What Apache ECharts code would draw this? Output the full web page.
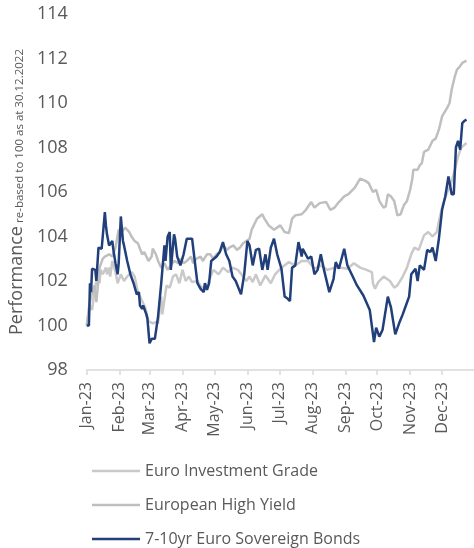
<!DOCTYPE html>
<html>
<head>
<meta charset="utf-8">
<script src="https://cdn.jsdelivr.net/npm/echarts@6/dist/echarts.min.js"></script>
<style>
  html, body { margin: 0; padding: 0; background: #fff; }
  #chart { width: 474px; height: 548px; }
</style>
</head>
<body>
<div id="chart"></div>
<script>
// tick labels and the day index (0 = 1 Jan 2023) where each month starts
const months = ['Jan-23', 'Feb-23', 'Mar-23', 'Apr-23', 'May-23', 'Jun-23',
                'Jul-23', 'Aug-23', 'Sep-23', 'Oct-23', 'Nov-23', 'Dec-23'];
const monthStart = [0, 31, 59, 90, 120, 151, 181, 212, 243, 273, 304, 334];

const seriesNames = ['Euro Investment Grade', 'European High Yield', '7-10yr Euro Sovereign Bonds'];

// Euro Investment Grade (day index, level)
const igDays = [0, 2, 3, 5, 6, 7, 10, 12, 13, 15, 18, 19, 21, 22, 24, 27, 29, 32, 35, 38, 42, 45, 48, 52, 55, 58,
  62, 65, 67, 70, 71, 75, 78, 81, 84, 87, 90, 93, 96, 99, 104, 108, 113, 119, 124, 128, 133, 137, 142, 147, 150,
  153, 156, 159, 163, 168, 173, 177, 183, 190, 196, 202, 208, 214, 220, 226, 233, 239, 245, 251, 257, 263, 268,
  269, 271, 274, 279, 285, 289, 292, 297, 301, 305, 308, 312, 317, 321, 325, 329, 332, 335, 339, 342, 346, 349,
  352, 357];
const igVals = [100, 100.6, 100.9, 100.7, 101.1, 101.5, 102.2, 101.9, 102.5, 102.3, 102.6, 102.3, 102.6, 102.2,
  102.9, 102.4, 101.9, 102.3, 102.0, 102.2, 102.4, 102.2, 101.5, 101.1, 100.8, 100.2, 100.1, 100.15, 100.1, 101.3,
  100.5, 101.8, 101.7, 102.2, 102.3, 101.9, 102.5, 102.0, 102.2, 101.95, 102.0, 101.7, 101.8, 102.5, 102.3, 102.6,
  102.4, 102.6, 102.5, 102.2, 102.0, 102.2, 101.95, 102.3, 101.8, 102.25, 101.9, 102.3, 102.6, 102.85, 102.7,
  102.9, 102.9, 102.55, 102.7, 102.5, 102.6, 102.6, 102.55, 102.8, 102.6, 102.5, 102.4, 101.9, 101.65, 101.95,
  102.2, 102.0, 101.7, 101.8, 102.2, 102.6, 103.2, 103.5, 103.4, 104.05, 104.2, 104.0, 104.2, 104.9, 105.5, 106.0,
  106.3, 107.0, 107.6, 108.0, 108.2];

// European High Yield
const hyDays = [0, 2, 4, 6, 7, 9, 12, 15, 17, 21, 24, 27, 30, 33, 36, 40, 42, 45, 48, 52, 54, 58, 61, 62, 65, 67,
  70, 73, 76, 79, 82, 86, 88, 91, 94, 98, 100, 103, 107, 109, 113, 116, 119, 122, 125, 128, 132, 134, 138, 141,
  144, 147, 153, 155, 160, 165, 167, 171, 176, 182, 186, 190, 193, 196, 202, 206, 211, 214, 219, 225, 229, 233,
  237, 242, 246, 252, 257, 262, 265, 269, 272, 275, 279, 281, 283, 286, 289, 292, 295, 298, 301, 304, 306, 307,
  311, 313, 315, 317, 321, 325, 328, 331, 334, 339, 341, 343, 346, 348, 350, 353, 357];
const hyVals = [100, 100.8, 101.3, 101.6, 101.8, 101.05, 102.6, 103.0, 103.1, 103.2, 103.1, 103.5, 104.3, 104.2,
  104.4, 104.2, 104.0, 103.8, 103.7, 103.2, 103.3, 102.9, 103.1, 103.45, 103.2, 102.9, 102.6, 102.8, 102.5, 102.7,
  102.9, 102.8, 103.0, 102.8, 102.9, 103.1, 102.8, 103.0, 103.1, 102.9, 103.2, 103.2, 103.0, 103.2, 103.3, 103.6,
  103.4, 103.5, 103.6, 103.4, 103.5, 103.7, 103.9, 104.3, 104.8, 105.0, 104.8, 104.5, 104.3, 104.5, 104.2, 104.15,
  104.8, 104.95, 105.0, 105.2, 105.55, 105.3, 105.5, 105.55, 105.2, 105.3, 105.55, 105.8, 105.9, 106.2, 106.6,
  106.5, 106.4, 106.0, 106.1, 105.6, 105.3, 105.35, 105.9, 105.8, 105.6, 104.95, 105.0, 105.4, 105.6, 106.1, 106.6,
  107.0, 107.0, 107.2, 107.3, 107.8, 107.9, 108.3, 108.4, 108.8, 109.4, 109.8, 110.0, 110.6, 111.2, 111.5, 111.6,
  111.8, 111.9];

// 7-10yr Euro Sovereign Bonds
const sovDays = [0, 2, 3, 4, 5, 8, 9, 11, 14, 17, 18, 19, 21, 24, 25, 27, 29, 30, 32, 34, 35, 38, 41, 42, 44, 47,
  49, 50, 52, 53, 56, 57, 59, 61, 64, 67, 70, 73, 74, 76, 78, 79, 82, 83, 85, 88, 91, 94, 99, 101, 104, 107, 110,
  111, 113, 115, 117, 122, 125, 128, 131, 134, 137, 140, 145, 148, 151, 153, 156, 159, 162, 165, 168, 170, 173,
  176, 179, 183, 186, 189, 191, 193, 196, 199, 202, 203, 208, 211, 214, 217, 220, 223, 228, 232, 234, 237, 242,
  245, 249, 254, 260, 266, 270, 272, 275, 278, 283, 286, 290, 294, 297, 300, 303, 305, 309, 311, 313, 317, 320,
  323, 325, 328, 331, 334, 337, 340, 343, 345, 347, 349, 351, 353, 355, 357];
const sovVals = [100.0, 100.0, 101.9, 101.5, 102.55, 102.5, 102.0, 103.5, 103.45, 105.1, 104.5, 104.1, 103.6,
  103.8, 103.4, 102.8, 102.3, 102.8, 104.9, 103.8, 103.6, 102.9, 102.3, 102.3, 101.9, 101.4, 101.5, 100.9, 100.75,
  100.9, 100.5, 100.3, 99.2, 99.4, 99.4, 100.4, 101.9, 103.6, 102.9, 104.0, 104.2, 102.5, 104.1, 103.9, 103.1,
  102.7, 103.2, 103.9, 103.9, 103.1, 101.9, 101.65, 101.5, 101.9, 101.6, 101.9, 102.9, 103.1, 103.3, 103.75, 103.2,
  102.9, 102.2, 102.0, 101.4, 102.3, 103.8, 103.6, 102.7, 103.4, 103.45, 102.5, 103.2, 102.5, 103.5, 103.9, 103.2,
  102.55, 101.3, 101.2, 101.1, 102.6, 102.7, 103.75, 103.1, 103.45, 103.0, 103.1, 102.3, 102.5, 103.2, 102.5,
  101.5, 102.1, 102.85, 102.55, 103.45, 102.7, 102.3, 101.8, 101.35, 100.7, 99.25, 99.9, 99.5, 99.8, 101.3, 100.8,
  99.6, 100.15, 100.5, 100.9, 101.3, 102.3, 102.55, 102.0, 102.7, 102.5, 103.4, 103.3, 103.5, 102.9, 103.9, 105.2,
  105.8, 106.7, 105.9, 105.9, 108.0, 108.3, 107.9, 109.1, 109.2, 109.25];

const colors = ['#c9c9c9', '#bfbfbf', '#213f7b'];

// one category per calendar day of 2023
const days = [];
for (let i = 0; i < 365; i++) {
  const d = new Date(Date.UTC(2023, 0, 1 + i));
  days.push(d.toISOString().slice(0, 10));
}

function pares(x, y) {
  return x.map((d, i) => [d, y[i]]);
}

const esInicioMes = (idx) => monthStart.indexOf(idx) >= 0;

const chart = echarts.init(document.getElementById('chart'));

const option = {
  animation: false,
  textStyle: { fontFamily: 'Open Sans' },
  grid: { left: 84, right: -6, top: 14, bottom: 178 },
  legend: {
    orient: 'vertical',
    left: 92,
    top: 463,
    padding: 0,
    itemWidth: 48,
    itemHeight: 2.5,
    itemGap: 18,
    icon: 'rect',
    textStyle: { fontSize: 16, color: '#595959', fontFamily: 'Open Sans' },
    data: seriesNames
  },
  xAxis: {
    type: 'category',
    data: days,
    boundaryGap: false,
    axisLine: { lineStyle: { color: '#d9d9d9', width: 1.5 } },
    axisTick: { show: true, length: 5, interval: esInicioMes, lineStyle: { color: '#d9d9d9', width: 1.5 } },
    axisLabel: {
      interval: esInicioMes,
      rotate: 90,
      margin: 12,
      fontSize: 16,
      color: '#595959',
      formatter: (v, idx) => {
        const m = monthStart.indexOf(idx);
        return m >= 0 ? months[m] : '';
      }
    },
    splitLine: { show: false }
  },
  yAxis: {
    type: 'value',
    min: 98,
    max: 114,
    interval: 2,
    axisLine: { show: false },
    axisTick: { show: false },
    splitLine: { show: false },
    axisLabel: { fontSize: 18, color: '#595959', margin: 19 },
    name: '{a|Performance} {b|re-based to 100 as at 30.12.2022}',
    nameLocation: 'middle',
    nameRotate: 90,
    nameGap: 56,
    nameTextStyle: {
      color: '#595959',
      rich: {
        a: { fontSize: 18, color: '#595959', fontFamily: 'Open Sans' },
        b: { fontSize: 11.5, color: '#595959', fontFamily: 'Open Sans', padding: [6, 0, 0, 0] }
      }
    }
  },
  series: [
    { name: seriesNames[0], data: pares(igDays, igVals), color: colors[0] },
    { name: seriesNames[1], data: pares(hyDays, hyVals), color: colors[1] },
    { name: seriesNames[2], data: pares(sovDays, sovVals), color: colors[2] }
  ].map(s => Object.assign({
    type: 'line',
    symbol: 'none',
    showSymbol: false,
    lineStyle: { width: 2.5, color: s.color },
    emphasis: { disabled: true }
  }, s))
};

chart.setOption(option);
</script>
</body>
</html>
